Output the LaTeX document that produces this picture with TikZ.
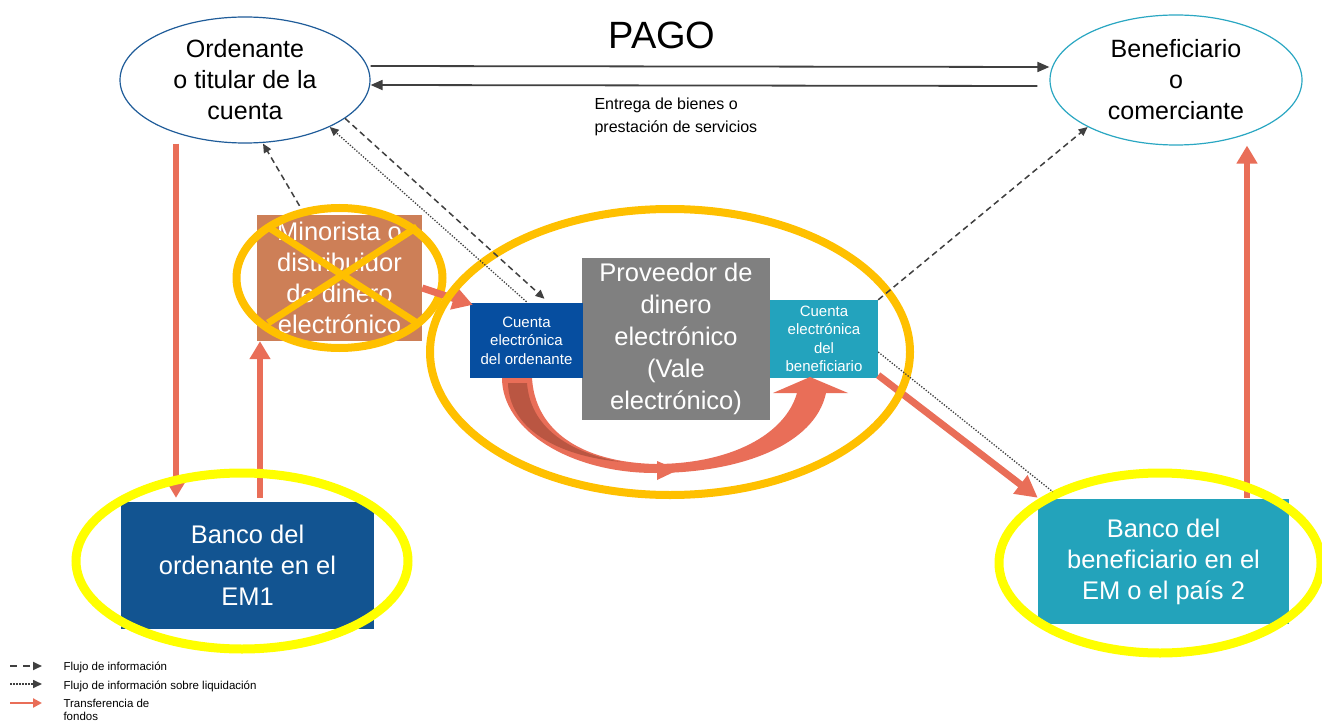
\documentclass[tikz,border=0pt]{standalone}
\usepackage{fontspec}
\setmainfont{Liberation Sans}
\usetikzlibrary{shapes.geometric,arrows.meta,calc}

\definecolor{coral}{RGB}{233,110,88}
\definecolor{coraldark}{RGB}{186,86,66}
\definecolor{ringorange}{RGB}{255,192,0}
\definecolor{ringyellow}{RGB}{255,255,0}
\definecolor{ordline}{RGB}{31,92,153}
\definecolor{benline}{RGB}{42,167,194}
\definecolor{minorfill}{RGB}{205,127,87}
\definecolor{provgray}{RGB}{128,128,128}
\definecolor{cordfill}{RGB}{6,78,160}
\definecolor{cbenfill}{RGB}{35,163,189}
\definecolor{bordfill}{RGB}{18,84,145}
\definecolor{bbenfill}{RGB}{35,163,187}
\definecolor{infogray}{RGB}{64,64,64}

\begin{document}
\begin{tikzpicture}[x=1pt,y=-1pt,
  partyell/.style={ellipse, line width=1.2pt, inner sep=0pt, fill=white},
  partytext/.style={font=\fontsize{25}{31}\selectfont, align=center, text=black},
  boxnode/.style={rectangle, inner sep=0pt, text=white, align=center},
  bigtext/.style={font=\fontsize{25.5}{31}\selectfont},
  provtext/.style={font=\fontsize{25.5}{32}\selectfont},
  smalltext/.style={font=\fontsize{15}{18.5}\selectfont},
  legendtext/.style={font=\fontsize{11.5}{13}\selectfont, anchor=west, align=left, text=black},
  pagoline/.style={draw=infogray, line width=1.8pt, -{Triangle[width=10pt,length=12pt]}},
  infoflow/.style={draw=infogray, line width=1.5pt, dash pattern=on 6pt off 4pt, -{Triangle[width=8pt,length=9pt]}},
  settleflow/.style={draw=infogray, line width=1.3pt, dash pattern=on 1.3pt off 1.6pt, -{Triangle[width=8pt,length=9pt]}},
  settleplain/.style={draw=infogray, line width=1.3pt, dash pattern=on 1.3pt off 1.6pt},
  funds/.style={draw=coral, line width=6pt, -{Triangle[width=20pt,length=18pt]}},
  ring/.style={line width=8pt}
]
\useasboundingbox (0,0) rectangle (1322,722);
\fill[white] (0,0) rectangle (1322,722);

% parties
\node[partyell, draw=ordline, minimum width=250pt, minimum height=126pt] (ord) at (245,80) {};
\node[partytext] (ordtext) at (ord.center) {Ordenante\\o titular de la\\cuenta};
\node[partyell, draw=benline, minimum width=252pt, minimum height=130pt] (ben) at (1176,80) {};
\node[partytext] (bentext) at (ben.center) {Beneficiario\\o\\comerciante};

\node[font=\fontsize{38}{40}\selectfont] (pago) at (662,35) {PAGO};
\node[font=\fontsize{16}{23}\selectfont, anchor=west, align=left] (entrega) at (591,117)
  {Entrega de bienes o\\prestación de servicios};

% boxes
\node[boxnode, bigtext, fill=minorfill, minimum width=165pt, minimum height=126pt] (minor) at (339.5,278)
  {Minorista o\\distribuidor\\de dinero\\electrónico};
\node[boxnode, provtext, fill=provgray, minimum width=188pt, minimum height=162pt] (prov) at (676,339)
  {Proveedor de\\dinero\\electrónico\\(Vale\\electrónico)};
\node[boxnode, smalltext, fill=cordfill, minimum width=113pt, minimum height=75pt] (cord) at (526.5,340.5)
  {Cuenta\\electrónica\\del ordenante};
\node[boxnode, smalltext, fill=cbenfill, minimum width=108pt, minimum height=78pt] (cben) at (824,339)
  {Cuenta\\electrónica\\del\\beneficiario};
\node[boxnode, bigtext, fill=bordfill, minimum width=253pt, minimum height=127pt] (bord) at (247.5,565.5)
  {Banco del\\ordenante en el\\EM1};
\node[boxnode, bigtext, fill=bbenfill, minimum width=251pt, minimum height=125pt] (bben) at (1163.5,561.5)
  {Banco del\\beneficiario en el\\EM o el país 2};

% retailer crossed out
\draw[ring, draw=ringorange] (minor.center) ellipse [x radius=103, y radius=70];
\draw[draw=ringorange, line width=7pt] (268,227) -- (417,323) (268,323) -- (417,227);

% payment and delivery
\draw[pagoline] ([yshift=14pt]ord.east) -- ([yshift=13pt]ben.west);
\draw[pagoline] ([xshift=-12pt,yshift=-6pt]ben.west) -- ([yshift=-5pt]ord.east);

% fund transfers
\draw[funds] ([xshift=-69pt]ord.south) -- ([xshift=-71.5pt,yshift=4pt]bord.north);
\draw[funds] ([xshift=12.5pt,yshift=4pt]bord.north) -- ([xshift=-79.5pt]minor.south);
\draw[funds, line width=7pt, -{Triangle[width=22pt,length=20pt]}] ([yshift=-10pt]minor.east) -- ([xshift=3pt,yshift=-2pt]cord.north west);
\draw[funds, line width=7pt, -{Triangle[width=22pt,length=22pt]}] ([yshift=3pt]cben.south east) -- ([yshift=1pt]bben.north west);
\draw[funds] ([xshift=83.5pt,yshift=1pt]bben.north) -- ([xshift=71pt]ben.south);

% ring around the e-money provider and its accounts
\draw[ring, draw=ringorange] (670,352) ellipse [x radius=240, y radius=143];

% transfer between the two e-money accounts
\fill[coral] (502,378) .. controls (502,430) and (570,473) .. (655,473)
  .. controls (740,473) and (815,445) .. (826,393) -- (848,393) -- (810,377) -- (773,393) -- (797,393)
  .. controls (785,435) and (730,464) .. (655,464)
  .. controls (580,462) and (535,430) .. (532,378) -- cycle;
\fill[coraldark] (508,383) -- (527,383) .. controls (530,425) and (565,452) .. (622,462)
  .. controls (556,456) and (509,428) .. cycle;
\fill[coral] (657,461) -- (678,470) -- (657,480) -- cycle;

% bank rings
\draw[ring, line width=9pt, draw=ringyellow] (242,561) ellipse [x radius=166, y radius=88];
\draw[ring, line width=9pt, draw=ringyellow] (1160,563) ellipse [x radius=161, y radius=90];

% information flows
\draw[infoflow] ([xshift=-40pt,yshift=9pt]minor.north) -- ([xshift=18pt]ord.south);
\draw[infoflow] (ord.-21) -- ([xshift=18pt,yshift=4pt]cord.north);
\draw[settleflow] ([yshift=1pt]cord.north) -- (ord.-29);
\draw[infoflow] (cben.north east) -- (ben.208);
\draw[settleplain] ([yshift=-13pt]cben.east) -- ([xshift=15pt,yshift=7pt]bben.north west);

% legend
\coordinate (l1a) at (10,666); \coordinate (l1b) at (42,666);
\coordinate (l2a) at (10,684); \coordinate (l2b) at (42,684);
\coordinate (l3a) at (10,703); \coordinate (l3b) at (42,703);
\draw[draw=infogray, line width=2pt, dash pattern=on 7pt off 6pt, -{Triangle[width=8pt,length=9pt]}] (l1a) -- (l1b);
\draw[draw=infogray, line width=1.6pt, dash pattern=on 1.5pt off 1.5pt, -{Triangle[width=8pt,length=9pt]}] (l2a) -- (l2b);
\draw[draw=coral, line width=2.5pt, -{Triangle[width=9pt,length=9pt]}] (l3a) -- (l3b);
\node[legendtext] (lg1) at (60,667) {Flujo de información};
\node[legendtext] (lg2) at (60,686) {Flujo de información sobre liquidación};
\node[legendtext] (lg3) at (60,710) {Transferencia de\\fondos};
\end{tikzpicture}
\end{document}
